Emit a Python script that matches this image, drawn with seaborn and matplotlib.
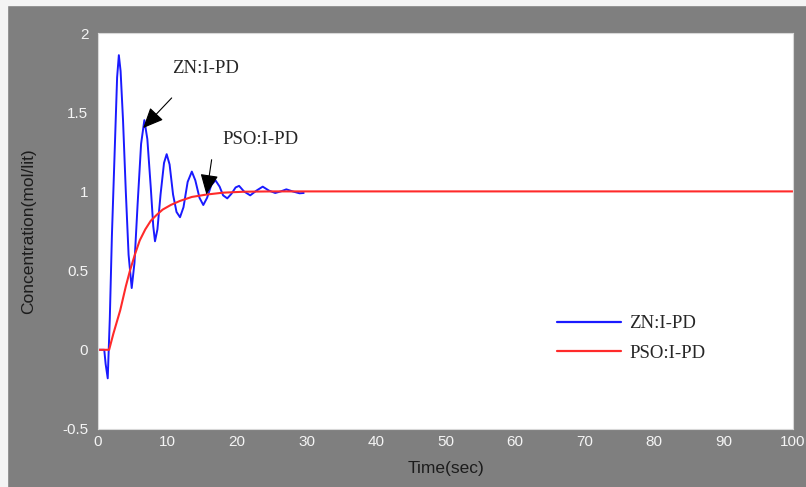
import matplotlib
matplotlib.use("Agg")
import matplotlib.pyplot as plt
from matplotlib.patches import Rectangle
import seaborn as sns

# ZN:I-PD response
zn_t = [0, 0.9, 1.1, 1.4, 1.7, 2.0, 2.45, 2.75, 3.0, 3.25, 3.6, 4.0, 4.4, 4.85,
        5.25, 5.7, 6.2, 6.67, 7.1, 7.6, 7.95, 8.2, 8.55, 9.0, 9.5, 9.88, 10.3,
        10.8, 11.3, 11.8, 12.3, 12.9, 13.5, 14.0, 14.6, 15.15, 15.7, 16.3, 16.9,
        17.5, 18.0, 18.6, 19.2, 19.8, 20.3, 21.0, 21.9, 22.8, 23.7, 24.6, 25.5,
        26.3, 27.1, 28.0, 29.0, 29.6]
zn_c = [0, 0, -0.09, -0.18, 0.2, 0.72, 1.32, 1.72, 1.86, 1.76, 1.45, 1.0, 0.6, 0.39,
        0.55, 0.92, 1.3, 1.45, 1.33, 1.02, 0.78, 0.685, 0.76, 0.98, 1.18, 1.235, 1.17,
        0.98, 0.87, 0.837, 0.9, 1.06, 1.125, 1.07, 0.96, 0.914, 0.96, 1.04, 1.07,
        1.03, 0.975, 0.956, 0.985, 1.025, 1.035, 1.0, 0.975, 1.005, 1.03, 1.005, 0.99,
        1.0, 1.013, 1.0, 0.988, 0.99]

# PSO:I-PD response
pso_t = [0, 1.6, 2.2, 3.2, 4.0, 4.6, 5.3, 6.0, 6.8, 7.6, 8.4, 9.3, 10.5, 11.8,
         13.5, 15.6, 18.0, 21.0, 25.0, 100.0]
pso_c = [0, 0, 0.1, 0.25, 0.4, 0.5, 0.6, 0.69, 0.76, 0.815, 0.85, 0.885, 0.915, 0.94,
         0.965, 0.98, 0.992, 0.998, 1.0, 1.0]

x_ticks = [0, 10, 20, 30, 40, 50, 60, 70, 80, 90, 100]
y_ticks = [-0.5, 0, 0.5, 1, 1.5, 2]
y_tick_labels = ["-0.5", "0", "0.5", "1", "1.5", "2"]

sns.set_style("white")
tick_font = ["Liberation Sans Narrow", "Liberation Sans"]
serif_font = ["Liberation Serif", "DejaVu Serif"]

fig = plt.figure(figsize=(8.06, 4.87), dpi=100, facecolor="#7f7f7f")
# light screenshot border on top and left
fig.patches.append(Rectangle((0, 1 - 5 / 487), 1, 5 / 487, transform=fig.transFigure,
                             color="#f4f4f4", zorder=0))
fig.patches.append(Rectangle((0, 0), 7 / 806, 1, transform=fig.transFigure,
                             color="#f4f4f4", zorder=0))

ax = fig.add_axes([98 / 806, 1 - 429 / 487, 695 / 806, 396 / 487])
ax.set_facecolor("white")

sns.lineplot(x=zn_t, y=zn_c, ax=ax, color="#1a1aff", lw=1.4, sort=False,
             estimator=None, label="ZN:I-PD")
sns.lineplot(x=pso_t, y=pso_c, ax=ax, color="#ff2a2a", lw=1.5, sort=False,
             estimator=None, label="PSO:I-PD")

ax.set_xlim(0, 100)
ax.set_ylim(-0.5, 2)
ax.set_xticks(x_ticks)
ax.set_yticks(y_ticks)
ax.set_yticklabels(y_tick_labels)
ax.tick_params(length=0, labelsize=11, labelcolor="#f4f4f4")
ax.tick_params(axis="y", pad=7)
ax.tick_params(axis="x", pad=4)
for lab in ax.get_xticklabels() + ax.get_yticklabels():
    lab.set_family(tick_font)

ax.set_xlabel("Time(sec)", fontsize=12.5, color="#1c1c1c", family=tick_font)
ax.set_ylabel("Concentration(mol/lit)", fontsize=12.5, color="#1c1c1c", family=tick_font)
ax.xaxis.set_label_coords(0.5, -0.08)
ax.yaxis.set_label_coords(-0.089, 0.5)

for sp in ax.spines.values():
    sp.set_color("#d8d8d8")
    sp.set_linewidth(0.8)

# annotations with arrows
arrow = dict(arrowstyle="-|>,head_length=0.9,head_width=0.4", color="black",
             lw=0.8, mutation_scale=14, shrinkA=0, shrinkB=0)
ax.text(15.4, 1.777, "ZN:I-PD", fontsize=13.5, family=serif_font, ha="center", va="center")
ax.annotate("", xy=(6.5, 1.40), xytext=(10.6, 1.59), arrowprops=arrow)
ax.text(23.4, 1.33, "PSO:I-PD", fontsize=13.5, family=serif_font, ha="center", va="center")
ax.annotate("", xy=(15.6, 0.98), xytext=(16.35, 1.20), arrowprops=arrow)

leg = ax.legend(loc="upper left", bbox_to_anchor=(0.647, 0.311), frameon=False,
                borderpad=0, handlelength=3.4, handletextpad=0.45, labelspacing=0.65,
                prop={"family": serif_font, "size": 13.5})
for h in leg.get_lines():
    h.set_linewidth(1.6)

fig.savefig("out.png", dpi=100, facecolor=fig.get_facecolor())
